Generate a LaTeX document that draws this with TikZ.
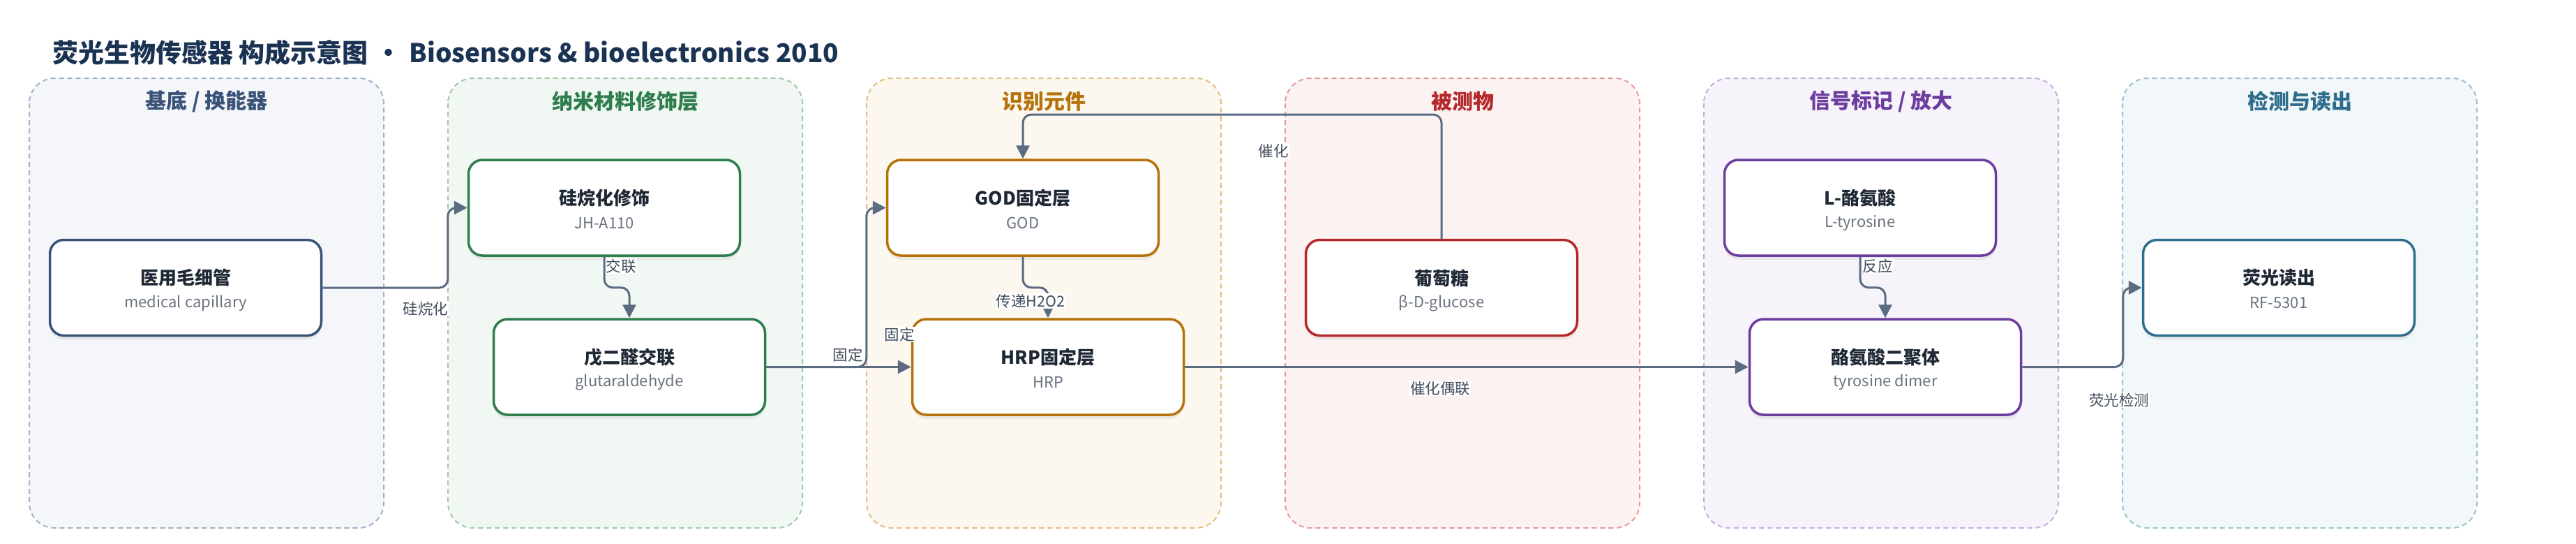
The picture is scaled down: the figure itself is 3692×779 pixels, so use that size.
\documentclass[tikz,border=0pt]{standalone}
\usepackage{fontspec}
\setmainfont{Noto Sans CJK SC}
\usetikzlibrary{arrows.meta,shadows}
\definecolor{titlec}{HTML}{1B3352}
\definecolor{connc}{HTML}{5A6B82}
\definecolor{lblc}{HTML}{414C5C}
\definecolor{nodet}{HTML}{1F2835}
\definecolor{subc}{HTML}{6B7380}
% panel colours: title/node, dashed border, fill
\definecolor{aT}{HTML}{3A5378}\definecolor{aB}{HTML}{A3B1C8}\definecolor{aF}{HTML}{F4F6FA}
\definecolor{bT}{HTML}{2E7D4C}\definecolor{bB}{HTML}{9FC9AB}\definecolor{bF}{HTML}{F1F8F3}
\definecolor{cT}{HTML}{B5720B}\definecolor{cB}{HTML}{E3BD82}\definecolor{cF}{HTML}{FDF8EF}
\definecolor{dT}{HTML}{B5282A}\definecolor{dB}{HTML}{E39A9A}\definecolor{dF}{HTML}{FDF2F2}
\definecolor{eT}{HTML}{6C3D9E}\definecolor{eB}{HTML}{C4AEE0}\definecolor{eF}{HTML}{F6F3FB}
\definecolor{fT}{HTML}{2E6E8C}\definecolor{fB}{HTML}{9CC2D0}\definecolor{fF}{HTML}{F2F7F9}
\tikzset{
  panelbox/.style={line width=2pt, dash pattern=on 7pt off 5pt, rounded corners=36pt},
  ptitle/.style={font=\fontsize{30}{30}\selectfont\bfseries, inner sep=0pt},
  box/.style={draw, line width=3.5pt, rounded corners=20pt, fill=white,
    minimum width=389pt, minimum height=137pt, inner sep=0pt,
    drop shadow={shadow xshift=0pt, shadow yshift=-6pt, opacity=0.12}},
  ttl/.style={font=\fontsize{26}{26}\selectfont\bfseries, text=nodet, inner sep=0pt},
  subt/.style={font=\fontsize{22}{22}\selectfont, text=subc, inner sep=0pt},
  conn/.style={draw=connc, line width=3pt, rounded corners=12pt,
    -{Triangle[length=19pt,width=19pt]}},
  lbl/.style={fill=white, inner xsep=1pt, inner ysep=1pt, text=lblc,
    font=\fontsize{21.5}{21.5}\selectfont}
}
\newcommand\mybox[6]{% name, x, y, colour, title, sub
  \node[box, draw=#4] (#1) at (#2,#3) {};
  \node[ttl] (#1-t) at (#2,#3-14) {#5};
  \node[subt] (#1-s) at (#2,#3+22) {#6};
}
\begin{document}
\begin{tikzpicture}[x=1pt,y=-1pt]
\useasboundingbox (0,0) rectangle (3692,779);
\fill[white] (0,0) rectangle (3692,779);

\node[anchor=west, inner sep=0pt, text=titlec, font=\fontsize{37}{37}\selectfont\bfseries] (title) at (75,75)
  {荧光生物传感器 构成示意图\hspace{11pt}•\hspace{11pt}Biosensors \& bioelectronics 2010};

% panels
\path[panelbox, fill=aF, draw=aB] (42,112) rectangle (550,756);
\path[panelbox, fill=bF, draw=bB] (642,112) rectangle (1150,756);
\path[panelbox, fill=cF, draw=cB] (1242,112) rectangle (1750,756);
\path[panelbox, fill=dF, draw=dB] (1842,112) rectangle (2350,756);
\path[panelbox, fill=eF, draw=eB] (2442,112) rectangle (2950,756);
\path[panelbox, fill=fF, draw=fB] (3042,112) rectangle (3550,756);

\node[ptitle, text=aT] (p1) at (296,145) {基底 / 换能器};
\node[ptitle, text=bT] (p2) at (896,145) {纳米材料修饰层};
\node[ptitle, text=cT] (p3) at (1496,145) {识别元件};
\node[ptitle, text=dT] (p4) at (2096,145) {被测物};
\node[ptitle, text=eT] (p5) at (2696,145) {信号标记 / 放大};
\node[ptitle, text=fT] (p6) at (3296,145) {检测与读出};

% nodes
\mybox{cap}{266}{412}{aT}{医用毛细管}{medical capillary}
\mybox{sil}{866}{297.5}{bT}{硅烷化修饰}{JH-A110}
\mybox{glt}{902}{525.5}{bT}{戊二醛交联}{glutaraldehyde}
\mybox{god}{1466}{297.5}{cT}{GOD固定层}{GOD}
\mybox{hrp}{1502}{525.5}{cT}{HRP固定层}{HRP}
\mybox{glu}{2066}{412}{dT}{葡萄糖}{β-D-glucose}
\mybox{tyr}{2666}{297.5}{eT}{L-酪氨酸}{L-tyrosine}
\mybox{dim}{2702}{525.5}{eT}{酪氨酸二聚体}{tyrosine dimer}
\mybox{rd}{3266}{412}{fT}{荧光读出}{RF-5301}

% connectors
\coordinate (gtop) at (2066,164);
\draw[conn] (cap.east) -| ([xshift=-28pt]sil.west) -- (sil.west);
\draw[conn] (sil.south) -- ++(0,44) -| (glt.north);
\draw[conn] (glt.east) -- (hrp.west);
\draw[conn] (glt.east) -| ([xshift=-28pt]god.west) -- (god.west);
\draw[conn] (god.south) -- ++(0,44) -| (hrp.north);
\draw[conn] (glu.north) -- (gtop) -| (god.north);
\draw[conn] (hrp.east) -- (dim.west);
\draw[conn] (tyr.south) -- ++(0,44) -| (dim.north);
\draw[conn] (dim.east) -| ([xshift=-27pt]rd.west) -- (rd.west);

% labels
\node[lbl] (l1) at (610,442) {硅烷化};
\node[lbl] (l2) at (890,381) {交联};
\node[lbl] (l3) at (1215,508) {固定};
\node[lbl] (l4) at (1289,479) {固定};
\node[lbl] (l5) at (1477,431) {传递H2O2};
\node[lbl] (l6) at (1825,216) {催化};
\node[lbl] (l7) at (2064,556) {催化偶联};
\node[lbl] (l8) at (2691,381) {反应};
\node[lbl] (l9) at (3037,573) {荧光检测};
\end{tikzpicture}
\end{document}
